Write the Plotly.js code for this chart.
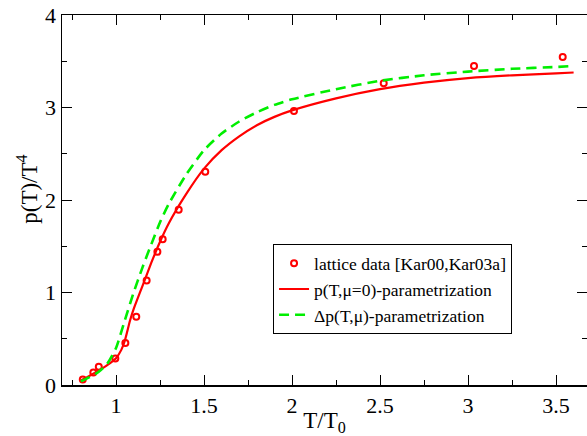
<!DOCTYPE html>
<html>
<head>
<meta charset="utf-8">
<script src="https://cdn.plot.ly/plotly-3.0.1.min.js"></script>
<style>html,body{margin:0;padding:0;background:#fff;}#chart{width:587px;height:436px;}</style>
</head>
<body>
<div id="chart"></div>
<script>
// lattice data points
var latticeT = [0.811, 0.871, 0.902, 0.996, 1.053, 1.115, 1.174, 1.235, 1.265, 1.356, 1.507, 2.011, 2.521, 3.034, 3.538];
var latticeP = [0.060, 0.135, 0.197, 0.287, 0.454, 0.739, 1.129, 1.440, 1.576, 1.895, 2.307, 2.963, 3.263, 3.451, 3.548];

// p(T,mu=0) parametrization
var paramT = [0.8, 0.85, 0.9, 0.95, 1.0, 1.03, 1.05, 1.08, 1.1, 1.15, 1.2, 1.25, 1.3, 1.4, 1.5, 1.6, 1.7, 1.8, 1.9, 2.0, 2.25, 2.5, 2.75, 3.0, 3.25, 3.5, 3.6];
var paramP = [0.05, 0.10, 0.155, 0.215, 0.29, 0.38, 0.48, 0.70, 0.82, 1.07, 1.32, 1.55, 1.75, 2.07, 2.34, 2.54, 2.69, 2.81, 2.90, 2.97, 3.10, 3.20, 3.27, 3.32, 3.35, 3.37, 3.38];

// Delta p(T,mu) parametrization
var deltaT = [0.8, 0.85, 0.9, 0.95, 1.0, 1.05, 1.1, 1.15, 1.2, 1.25, 1.3, 1.4, 1.5, 1.6, 1.7, 1.8, 1.9, 2.0, 2.25, 2.5, 2.75, 3.0, 3.25, 3.5, 3.6];
var deltaP = [0.04, 0.085, 0.14, 0.23, 0.40, 0.70, 1.0, 1.27, 1.52, 1.76, 1.96, 2.28, 2.54, 2.72, 2.85, 2.95, 3.03, 3.09, 3.20, 3.29, 3.35, 3.39, 3.42, 3.44, 3.45];

var xTickVals = [1, 1.5, 2, 2.5, 3, 3.5];
var xTickText = ["1", "1.5", "2", "2.5", "3", "3.5"];
var yTickVals = [0, 1, 2, 3, 4];
var yTickText = ["0", "1", "2", "3", "4"];

var serif = "Liberation Serif, Times New Roman, serif";

var traces = [
  {
    x: latticeT, y: latticeP, mode: "markers", type: "scatter",
    name: "lattice data [Kar00,Kar03a]",
    marker: {symbol: "circle-open", size: 6, color: "#ff0000", line: {width: 2, color: "#ff0000"}}
  },
  {
    x: paramT, y: paramP, mode: "lines", type: "scatter",
    name: "p(T,\u03bc=0)-parametrization",
    line: {color: "#ff0000", width: 2.2, shape: "spline", smoothing: 0.6}
  },
  {
    x: deltaT, y: deltaP, mode: "lines", type: "scatter",
    name: "\u0394p(T,\u03bc)-parametrization",
    line: {color: "#00ee00", width: 2.6, dash: "10px,6px", shape: "spline", smoothing: 0.6}
  }
];

var axisCommon = {
  showline: true, linecolor: "#000", linewidth: 1.5, mirror: "allticks",
  ticks: "inside", ticklen: 10, tickwidth: 1, tickcolor: "#000",
  showgrid: false, zeroline: false,
  tickfont: {family: serif, size: 22, color: "#000"}
};

var layout = {
  width: 587, height: 436,
  margin: {l: 62, r: 0, t: 15, b: 51},
  paper_bgcolor: "#fff", plot_bgcolor: "#fff",
  showlegend: true,
  xaxis: Object.assign({}, axisCommon, {
    range: [0.693, 3.676], tickmode: "array", tickvals: xTickVals, ticktext: xTickText,
    minor: {ticks: "inside", ticklen: 5, tickwidth: 1, tickcolor: "#000", dtick: 0.25, tick0: 0, showgrid: false},
    title: {text: "T/T<sub>0</sub>", font: {family: serif, size: 23, color: "#000"}, standoff: 4}
  }),
  yaxis: Object.assign({}, axisCommon, {
    range: [0, 4.002], tickmode: "array", tickvals: yTickVals, ticktext: yTickText,
    minor: {ticks: "inside", ticklen: 5, tickwidth: 1, tickcolor: "#000", dtick: 0.5, tick0: 0, showgrid: false}
  }),
  annotations: [{
    text: "p(T)/T<sup>4</sup>", textangle: -90, showarrow: false,
    xref: "paper", yref: "paper", x: -0.065, y: 0.53, xanchor: "center", yanchor: "middle",
    font: {family: serif, size: 23, color: "#000"}
  }],
  legend: {
    x: 0.402, y: 0.38, xanchor: "left", yanchor: "top",
    bgcolor: "#fff", bordercolor: "#000", borderwidth: 1,
    font: {family: serif, size: 17.5, color: "#000"},
    itemwidth: 30, tracegroupgap: 0
  }
};

Plotly.newPlot("chart", traces, layout, {displayModeBar: false, staticPlot: true});
</script>
</body>
</html>
